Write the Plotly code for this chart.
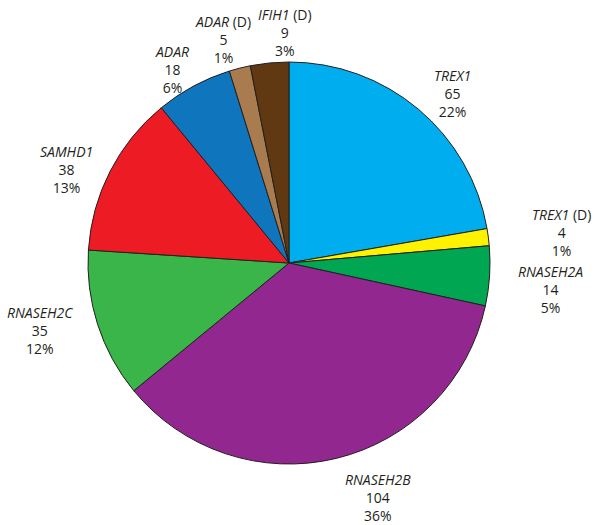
import plotly.graph_objects as go

genes = ["TREX1", "TREX1", "RNASEH2A", "RNASEH2B", "RNASEH2C", "SAMHD1", "ADAR", "ADAR", "IFIH1"]
suffix = ["", " (D)", "", "", "", "", "", " (D)", " (D)"]
counts = [65, 4, 14, 104, 35, 38, 18, 5, 9]
percents = [22, 1, 5, 36, 12, 13, 6, 1, 3]
colors = ["#00AEEF", "#FFF200", "#00A651", "#92278F", "#39B54A",
          "#ED1C24", "#0F75BC", "#A97C50", "#603913"]

# label centre positions in window pixels (layout only)
label_px = [(452, 93), (561, 232), (550, 289), (378, 497), (40, 330),
            (66, 169), (172, 70), (223, 39), (285, 32)]

W, H = 601, 525
names = [g + s for g, s in zip(genes, suffix)]


def fx(px):
    return px / W


def fy(py):
    return 1 - py / H


fig = go.Figure(go.Pie(
    labels=names,
    values=counts,
    sort=False,
    direction="clockwise",
    rotation=0,
    marker=dict(colors=colors, line=dict(color="#231F20", width=1)),
    textinfo="none",
    hoverinfo="label+value",
    showlegend=False,
    domain=dict(x=[fx(88), fx(490)], y=[fy(464), fy(62)]),
))

for g, s, c, p, (px, py) in zip(genes, suffix, counts, percents, label_px):
    fig.add_annotation(
        x=fx(px), y=fy(py), xref="paper", yref="paper",
        xanchor="center", yanchor="middle", showarrow=False,
        text=f"<i>{g}</i>{s}<br>{c}<br>{p}%",
        font=dict(family="Open Sans", size=14, color="#231F20"),
        align="center",
    )

fig.update_layout(
    width=W, height=H,
    margin=dict(l=0, r=0, t=0, b=0),
    paper_bgcolor="white", plot_bgcolor="white",
)

fig.write_html(
    "out.html",
    config={"displayModeBar": False},
    post_script="document.body.style.margin='0';document.body.style.overflow='hidden';",
)
